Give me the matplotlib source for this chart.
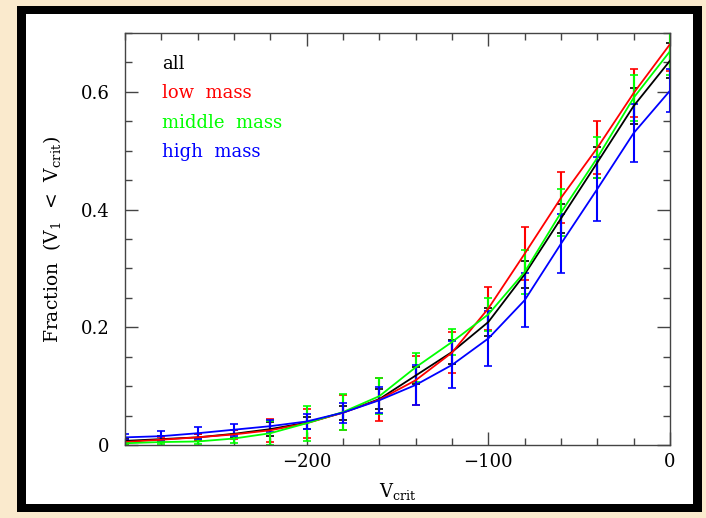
import numpy as np
import matplotlib
matplotlib.use('Agg')
import matplotlib.pyplot as plt
from matplotlib.patches import Rectangle
from matplotlib.ticker import FixedLocator, MultipleLocator, FuncFormatter

plt.rcParams['font.family'] = ['DejaVu Serif']
plt.rcParams['mathtext.fontset'] = 'dejavuserif'

# 临界速度
v_crit = [-300, -280, -260, -240, -220, -200, -180, -160,
          -140, -120, -100, -80, -60, -40, -20, 0]

# 各质量区间的比例及误差
frac_all = [0.007, 0.010, 0.013, 0.019, 0.027, 0.038, 0.055, 0.078,
            0.118, 0.158, 0.209, 0.290, 0.385, 0.480, 0.576, 0.653]
err_all = [0.004, 0.005, 0.006, 0.007, 0.012, 0.010, 0.012, 0.017,
           0.015, 0.020, 0.024, 0.023, 0.025, 0.026, 0.030, 0.030]

frac_low = [0.005, 0.009, 0.013, 0.018, 0.025, 0.037, 0.055, 0.077,
            0.110, 0.157, 0.232, 0.325, 0.420, 0.505, 0.598, 0.681]
err_low = [0.003, 0.004, 0.006, 0.008, 0.020, 0.025, 0.030, 0.037,
           0.042, 0.035, 0.036, 0.045, 0.043, 0.045, 0.040, 0.045]

frac_mid = [0.003, 0.005, 0.006, 0.011, 0.020, 0.037, 0.056, 0.083,
            0.132, 0.175, 0.222, 0.294, 0.395, 0.488, 0.590, 0.669]
err_mid = [0.003, 0.004, 0.005, 0.008, 0.020, 0.030, 0.030, 0.030,
           0.025, 0.022, 0.028, 0.037, 0.040, 0.035, 0.039, 0.040]

frac_high = [0.013, 0.015, 0.020, 0.026, 0.032, 0.040, 0.055, 0.076,
             0.102, 0.136, 0.181, 0.246, 0.342, 0.435, 0.530, 0.602]
err_high = [0.005, 0.008, 0.010, 0.010, 0.010, 0.013, 0.017, 0.022,
            0.034, 0.040, 0.046, 0.046, 0.050, 0.055, 0.050, 0.037]

series = [
    ('all', frac_all, err_all, 'black'),
    ('low  mass', frac_low, err_low, '#ff0000'),
    ('middle  mass', frac_mid, err_mid, '#00ff00'),
    ('high  mass', frac_high, err_high, '#0000ff'),
]

fig = plt.figure(figsize=(7.06, 5.18), dpi=100)
fig.patch.set_facecolor('#faeacd')

# 黑色边框和白色底
W, H = 706, 518
fig.patches.append(Rectangle((17 / W, 1 - 512 / H), 685 / W, 506 / H,
                             transform=fig.transFigure, facecolor='black',
                             edgecolor='none', zorder=-10))
fig.patches.append(Rectangle((26 / W, 1 - 504 / H), 667 / W, 490 / H,
                             transform=fig.transFigure, facecolor='white',
                             edgecolor='none', zorder=-9))

ax = fig.add_axes([125 / W, 1 - 445 / H, 545 / W, 412 / H])
ax.set_facecolor('none')

for name, y, e, c in series:
    ax.errorbar(v_crit, y, yerr=e, color=c, lw=1.3, elinewidth=1.5,
                capsize=3.2, capthick=1.2)

ax.set_xlim(-300, 0)
ax.set_ylim(0, 0.7)

ax.xaxis.set_major_locator(FixedLocator([-200, -100, 0]))
ax.xaxis.set_minor_locator(MultipleLocator(20))
ax.yaxis.set_major_locator(FixedLocator([0, 0.2, 0.4, 0.6]))
ax.yaxis.set_minor_locator(MultipleLocator(0.05))
ax.yaxis.set_major_formatter(FuncFormatter(lambda v, p: '0' if v == 0 else f'{v:.1f}'))

ax.tick_params(which='both', direction='in', top=True, right=True,
               color='#444444', width=1.0, labelsize=13)
ax.tick_params(which='major', length=9.5)
ax.tick_params(which='minor', length=4.7)
ax.tick_params(axis='y', pad=11)
ax.tick_params(axis='x', pad=6)
for s in ax.spines.values():
    s.set_color('#444444')
    s.set_linewidth(1.0)

ax.set_xlabel(r'V$_{\rm crit}$', fontsize=13, labelpad=7)
ax.set_ylabel(r'Fraction  (V$_1$  <  V$_{\rm crit}$)', fontsize=13.5, labelpad=13)

# 图例文字
for i, (name, y, e, c) in enumerate(series):
    ax.text(0.068, 0.913 - 0.0713 * i, name, color=c, fontsize=13,
            transform=ax.transAxes, va='baseline', ha='left')

fig.savefig('out.png', dpi=100, facecolor=fig.get_facecolor())
